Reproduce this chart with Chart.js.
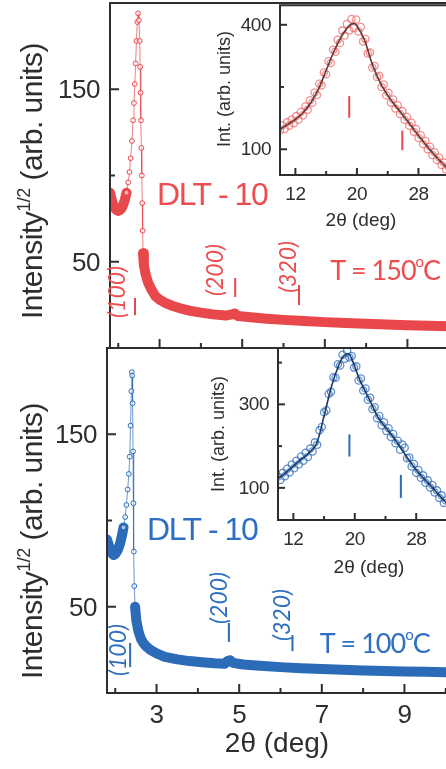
<!DOCTYPE html>
<html>
<head>
<meta charset="utf-8">
<script src="https://cdn.jsdelivr.net/npm/chart.js@4.4.1/dist/chart.umd.min.js"></script>
<style>
  html, body { margin: 0; padding: 0; background: #fff; width: 446px; height: 769px; overflow: hidden; }
  canvas { position: absolute; }
</style>
</head>
<body>
<canvas id="mainTop" width="460" height="352" style="left:0;top:0"></canvas>
<canvas id="mainBottom" width="460" height="429" style="left:0;top:340px"></canvas>
<canvas id="insetTop" width="260" height="240" style="left:200px;top:0"></canvas>
<canvas id="insetBottom" width="260" height="250" style="left:200px;top:340px"></canvas>
<script>
// main scans, 2theta (deg) vs Intensity^1/2
const redX = [1.80, 1.84, 1.88, 1.92, 1.96, 2.00, 2.04, 2.08, 2.12, 2.16, 2.20, 2.24, 2.27, 2.30, 2.33, 2.36, 2.38, 2.40, 2.42, 2.44,
  2.46, 2.48, 2.50, 2.52, 2.53, 2.54, 2.55, 2.56, 2.57, 2.58, 2.59, 2.60, 2.62, 2.66, 2.72, 2.80, 2.90, 3.00, 3.15, 3.30,
  3.50, 3.75, 4.00, 4.30, 4.60, 4.75, 4.82, 4.90, 5.20, 5.60, 6.00, 6.50, 7.00, 7.50, 8.00, 8.50, 9.00, 9.50, 10.00, 10.20];
const redY = [90, 86, 83, 81, 80, 79.5, 80, 81, 83, 86, 90, 96, 102, 110, 120, 132, 142, 153, 165, 178,
  189, 194, 190, 178, 163, 148, 132, 116, 100, 84, 68, 55, 48, 43, 38, 34, 30, 28, 26, 24.5,
  23, 21.5, 20.5, 19.5, 18.8, 19.5, 20, 18.5, 17.8, 17, 16.3, 15.6, 15, 14.5, 14, 13.6, 13.2, 12.9, 12.6, 12.5];

const blueX = [1.80, 1.84, 1.88, 1.92, 1.96, 2.00, 2.04, 2.08, 2.12, 2.16, 2.20, 2.24, 2.27, 2.30, 2.33, 2.35, 2.37, 2.39, 2.40, 2.41,
  2.42, 2.43, 2.44, 2.45, 2.46, 2.48, 2.51, 2.56, 2.62, 2.68, 2.75, 2.85, 3.00, 3.20, 3.50, 3.80, 4.10, 4.40, 4.65, 4.72,
  4.78, 4.85, 5.10, 5.50, 6.00, 6.50, 7.00, 7.50, 8.00, 8.50, 9.00, 9.50, 10.00, 10.20];
const blueY = [89, 86, 83, 81, 80, 80.5, 82, 84, 87, 91, 96, 102, 109, 118, 127, 137, 155, 175, 186, 184,
  168, 140, 110, 82, 62, 50, 42, 36, 31.5, 29, 27, 25, 23, 21, 19.5, 18.5, 17.8, 17.2, 17, 18.5,
  19, 17.5, 16.5, 15.8, 15, 14.4, 13.9, 13.5, 13.1, 12.8, 12.5, 12.3, 12, 12];

// insets: wide angle scans
const insetX = [10.0, 10.3, 10.6, 10.9, 11.2, 11.5, 11.8, 12.1, 12.4, 12.7, 13.0, 13.3, 13.6, 13.9, 14.2, 14.5, 14.8, 15.1, 15.4, 15.7,
  16.0, 16.3, 16.6, 16.9, 17.2, 17.5, 17.8, 18.1, 18.4, 18.7, 19.0, 19.3, 19.6, 19.9, 20.2, 20.5, 20.8, 21.1, 21.4, 21.7,
  22.0, 22.3, 22.6, 22.9, 23.2, 23.5, 23.8, 24.1, 24.4, 24.7, 25.0, 25.3, 25.6, 25.9, 26.2, 26.5, 26.8, 27.1, 27.4, 27.7,
  28.0, 28.3, 28.6, 28.9, 29.2, 29.5, 29.8, 30.1, 30.4, 30.7, 31.0, 31.3, 31.6, 31.9];
const redInsetY = [146, 158, 149, 165, 157, 172, 163, 180, 171, 190, 182, 203, 195, 218, 212, 237, 231, 258, 254, 285,
  281, 312, 308, 340, 335, 364, 356, 386, 374, 402, 386, 414, 392, 413, 384, 395, 360, 366, 331, 333,
  297, 301, 274, 277, 250, 256, 230, 236, 213, 220, 198, 206, 185, 192, 171, 178, 157, 164, 142, 149,
  127, 134, 113, 120, 100, 106, 86, 93, 74, 80, 62, 68, 51, 58];
const blueInsetY = [127, 119, 136, 128, 146, 137, 156, 147, 165, 156, 175, 165, 184, 174, 194, 187, 209, 203, 238, 246,
  281, 286, 325, 330, 365, 364, 396, 393, 419, 409, 428, 412, 416, 388, 391, 357, 362, 333, 338, 311,
  316, 289, 293, 267, 272, 250, 257, 236, 243, 222, 229, 207, 213, 191, 204, 196, 171, 173, 151, 157,
  136, 143, 124, 130, 112, 118, 101, 107, 89, 94, 76, 82, 64, 70];

const redFitX = [10, 11, 12, 13, 14, 15, 16, 17, 18, 19, 19.6, 20, 21, 22, 23, 24, 25, 26, 27, 28, 29, 30, 31, 32];
const redFitY = [148, 160, 172, 188, 212, 245, 290, 335, 372, 398, 403, 398, 362, 305, 262, 230, 205, 182, 158, 133, 110, 88, 68, 50];
const blueFitX = [10, 11, 12, 13, 14, 15, 16, 17, 18, 18.6, 19.2, 19.8, 20.5, 21, 22, 23, 24, 25, 26, 27, 28, 29, 30, 31, 32.4];
const blueFitY = [122, 136, 152, 168, 183, 205, 272, 345, 398, 416, 421, 400, 365, 345, 308, 270, 245, 222, 195, 168, 143, 122, 103, 82, 55];

// reflection markers [2theta, from, to]
const redPeaks = [[2.405, 19, 29], [4.83, 29.6, 40.6], [6.375, 24.9, 36.5]];
const bluePeaks = [[2.36, 15, 29], [4.75, 29.6, 40.6], [6.29, 24.3, 33.6]];
const redInsetPeaks = [[19.0, 176, 228], [25.9, 98, 145]];
const blueInsetPeaks = [[19.3, 175, 228], [26.0, 76, 131]];
const peakLabels = ['(100)', '(200)', '(320)'];

// ticks
const mainXMajor = [3, 5, 7, 9];
const mainXMinor = [2, 4, 6, 8, 10];
const mainYMajor = [50, 150];
const mainYMinor = [100];
const insetXMajor = [12, 20, 28];
const insetXMinor = [16, 24];
const topInsetYMajor = [100, 400];
const topInsetYMinor = [250];
const bottomInsetYMajor = [100, 300];
const bottomInsetYMinor = [200, 400];

const AXIS = '#2e2e2e';
const RED = '#e8484b';
const RED_TXT = '#ee4d4f';
const RED_PT = 'rgba(236, 96, 96, 0.7)';
const BLUE = '#2c6bb8';
const BLUE_TXT = '#2f6fc1';
const BLUE_PT = 'rgba(44, 108, 186, 0.75)';
const SANS = '"Liberation Sans", Arial, sans-serif';
const NOTE = 'Lato, "Open Sans", sans-serif';

function drawRich(ctx, parts, cx, cy, opts) {
  const o = opts || {};
  ctx.save();
  ctx.translate(cx, cy);
  if (o.rot) ctx.rotate(o.rot);
  ctx.fillStyle = o.color || AXIS;
  ctx.textAlign = 'left';
  ctx.textBaseline = 'alphabetic';
  ctx.letterSpacing = o.spacing || '0px';
  let width = 0;
  parts.forEach((p) => { ctx.font = p.font; width += ctx.measureText(p.t).width; });
  let x0 = o.align === 'center' ? -width / 2 : 0;
  parts.forEach((p) => {
    ctx.font = p.font;
    ctx.fillText(p.t, x0, (o.base || 0) + (p.dy || 0));
    x0 += ctx.measureText(p.t).width;
  });
  ctx.restore();
}

// plugin built per chart, so the settings stay plain objects
function decorFor(o) {
  return {
    id: 'decor',
    afterDraw(chart) {
      const { ctx, chartArea: a, scales: { x, y } } = chart;
      const px = (v) => x.getPixelForValue(v);
      const py = (v) => y.getPixelForValue(v);
      ctx.save();

      ctx.strokeStyle = AXIS;
      ctx.lineWidth = 2;
      ctx.beginPath();
      ctx.moveTo(a.right + 10, a.top);
      ctx.lineTo(a.left, a.top);
      ctx.lineTo(a.left, a.bottom);
      ctx.lineTo(a.right + 10, a.bottom);
      ctx.stroke();

      const seg = (x0, y0, x1, y1) => { ctx.beginPath(); ctx.moveTo(x0, y0); ctx.lineTo(x1, y1); ctx.stroke(); };
      o.xMajor.forEach((v) => seg(px(v), a.bottom, px(v), a.bottom - o.major));
      o.xMinor.forEach((v) => seg(px(v), a.bottom, px(v), a.bottom - o.minor));
      o.yMajor.forEach((v) => seg(a.left, py(v), a.left + o.major, py(v)));
      o.yMinor.forEach((v) => seg(a.left, py(v), a.left + o.minor, py(v)));

      ctx.fillStyle = AXIS;
      ctx.font = o.tickFont;
      ctx.textBaseline = 'alphabetic';
      ctx.letterSpacing = o.tickSpacing || '0px';
      ctx.textAlign = 'center';
      (o.xLabels || []).forEach((v) => ctx.fillText(String(v), px(v), a.bottom + o.xGap));
      ctx.textAlign = 'right';
      o.yMajor.forEach((v) => ctx.fillText(String(v), a.left - o.yGap, py(v) + o.yOff));
      ctx.letterSpacing = '0px';

      ctx.strokeStyle = o.color;
      ctx.lineWidth = 2;
      o.peaks.forEach((p) => seg(px(p[0]), py(p[1]), px(p[0]), py(p[2])));

      (o.notes || []).forEach((n) => {
        drawRich(ctx, n.parts, px(n.x), py(n.y), { color: o.textColor, rot: n.rot, align: n.align, base: n.base, spacing: n.spacing });
      });
      (o.titles || []).forEach((t) => {
        drawRich(ctx, t.parts, t.x - o.origin[0], t.y - o.origin[1], { rot: t.rot, align: 'center', base: t.base, spacing: t.spacing });
      });
      ctx.restore();
    }
  };
}

function mainSeries(xs, ys, color) {
  return {
    data: xs.map((v, i) => ({ x: v, y: ys[i] })),
    showLine: true,
    borderColor: color,
    borderWidth: 0.7,
    borderCapStyle: 'round',
    borderJoinStyle: 'round',
    pointRadius: (c) => (c.raw && c.raw.y > 56 && c.raw.x > 2.18 ? 2.4 : 0),
    pointBorderWidth: 1,
    pointBorderColor: color,
    pointBackgroundColor: 'rgba(255,255,255,0.6)',
    segment: {
      borderWidth: (c) => (c.p1.parsed.x <= 2.2 || Math.max(c.p0.parsed.y, c.p1.parsed.y) < 56 ? 10 : 0.7)
    }
  };
}

function insetSeries(xs, ys, fitXs, fitYs, ptColor, fitColor) {
  return [
    {
      data: fitXs.map((v, i) => ({ x: v, y: fitYs[i] })),
      showLine: true,
      borderColor: fitColor,
      borderWidth: 1.6,
      tension: 0.35,
      pointRadius: 0
    },
    {
      data: xs.map((v, i) => ({ x: v, y: ys[i] })),
      showLine: false,
      pointRadius: 3.6,
      pointBorderWidth: 1.3,
      pointBorderColor: ptColor,
      pointBackgroundColor: 'rgba(255,255,255,0)'
    }
  ];
}

function makeChart(id, datasets, padding, xRange, yRange, decorOpts) {
  return new Chart(document.getElementById(id), {
    type: 'scatter',
    data: { datasets },
    options: {
      responsive: false,
      animation: false,
      events: [],
      layout: { padding },
      plugins: { legend: { display: false }, tooltip: { enabled: false } },
      scales: {
        x: { type: 'linear', display: false, min: xRange[0], max: xRange[1] },
        y: { type: 'linear', display: false, min: yRange[0], max: yRange[1] }
      }
    },
    plugins: [decorFor(decorOpts)]
  });
}

const yTitle = (cy) => ({
  x: 31, y: cy, rot: -Math.PI / 2, base: 10.5, spacing: '-0.5px',
  parts: [
    { t: 'Intensity', font: `30px ${SANS}` },
    { t: '1/2', font: `18px ${SANS}`, dy: -12 },
    { t: ' (arb. units)', font: `30px ${SANS}` }
  ]
});
const peakNote = (label, x, y) => ({ x, y, rot: -Math.PI / 2, align: 'center', base: 8, parts: [{ t: label, font: `italic 23px ${NOTE}` }] });
const tempNote = (temp, x, y) => ({
  x, y, spacing: '-1px',
  parts: [
    { t: `T = ${temp}`, font: `27px ${NOTE}` },
    { t: 'o', font: `15px ${NOTE}`, dy: -13 },
    { t: 'C', font: `27px ${NOTE}` }
  ]
});
const dltNote = (x, y) => ({ x, y, spacing: '-1.5px', parts: [{ t: 'DLT - 10', font: `32px ${SANS}` }] });

const mainTicks = {
  xMajor: mainXMajor, xMinor: mainXMinor, yMajor: mainYMajor, yMinor: mainYMinor,
  major: 9, minor: 5, tickFont: `26px ${SANS}`, tickSpacing: '-0.5px', xGap: 30, yGap: 10, yOff: 9
};

makeChart('mainTop', [mainSeries(redX, redY, RED)], { left: 110, top: 3, right: 3, bottom: 4 }, [1.8, 10.2], [0, 200], {
  ...mainTicks,
  origin: [0, 0],
  color: RED, textColor: RED_TXT,
  peaks: redPeaks,
  notes: [
    dltNote(2.94, 82.9),
    tempNote('150', 7.13, 39.4),
    peakNote(peakLabels[0], 1.97, 32.5),
    peakNote(peakLabels[1], 4.34, 45.2),
    peakNote(peakLabels[2], 6.11, 47.0)
  ],
  titles: [yTitle(181)]
});

makeChart('mainBottom', [mainSeries(blueX, blueY, BLUE)], { left: 107, top: 8, right: 6, bottom: 76 }, [1.8, 10.2], [0, 200], {
  ...mainTicks,
  xLabels: mainXMajor,
  origin: [0, 340],
  color: BLUE, textColor: BLUE_TXT,
  peaks: bluePeaks,
  notes: [
    dltNote(2.77, 88.7),
    tempNote('100', 6.95, 23.2),
    peakNote(peakLabels[0], 2.07, 24.9),
    peakNote(peakLabels[1], 4.51, 55.1),
    peakNote(peakLabels[2], 6.04, 45.2)
  ],
  titles: [
    yTitle(541),
    { x: 277, y: 752, parts: [{ t: '2θ (deg)', font: `28px ${SANS}` }] }
  ]
});

const insetTicks = {
  xMajor: insetXMajor, xMinor: insetXMinor,
  major: 7, minor: 4, tickFont: `19px ${SANS}`, tickSpacing: '-0.5px', xGap: 25, yGap: 9, yOff: 6, xLabels: insetXMajor
};
const insetYTitle = (x, y) => ({ x, y, rot: -Math.PI / 2, base: 6.5, parts: [{ t: 'Int. (arb. units)', font: `18px ${SANS}` }] });

makeChart('insetTop', insetSeries(insetX, redInsetY, redFitX, redFitY, RED_PT, '#5a3c3c'),
  { left: 80, top: 3, right: 10, bottom: 65 }, [10, 32.1], [38, 447], {
    ...insetTicks,
    yMajor: topInsetYMajor, yMinor: topInsetYMinor,
    origin: [200, 0],
    color: RED, textColor: RED_TXT,
    peaks: redInsetPeaks,
    titles: [
      insetYTitle(223, 89),
      { x: 361, y: 226, parts: [{ t: '2θ (deg)', font: `19px ${SANS}` }] }
    ]
  });

makeChart('insetBottom', insetSeries(insetX, blueInsetY, blueFitX, blueFitY, BLUE_PT, '#1f3a63'),
  { left: 78, top: 8, right: 10, bottom: 70 }, [10, 32.4], [23, 435], {
    ...insetTicks,
    yMajor: bottomInsetYMajor, yMinor: bottomInsetYMinor,
    origin: [200, 340],
    color: BLUE, textColor: BLUE_TXT,
    peaks: blueInsetPeaks,
    titles: [
      insetYTitle(217, 434),
      { x: 369, y: 573, parts: [{ t: '2θ (deg)', font: `19px ${SANS}` }] }
    ]
  });
</script>
</body>
</html>
